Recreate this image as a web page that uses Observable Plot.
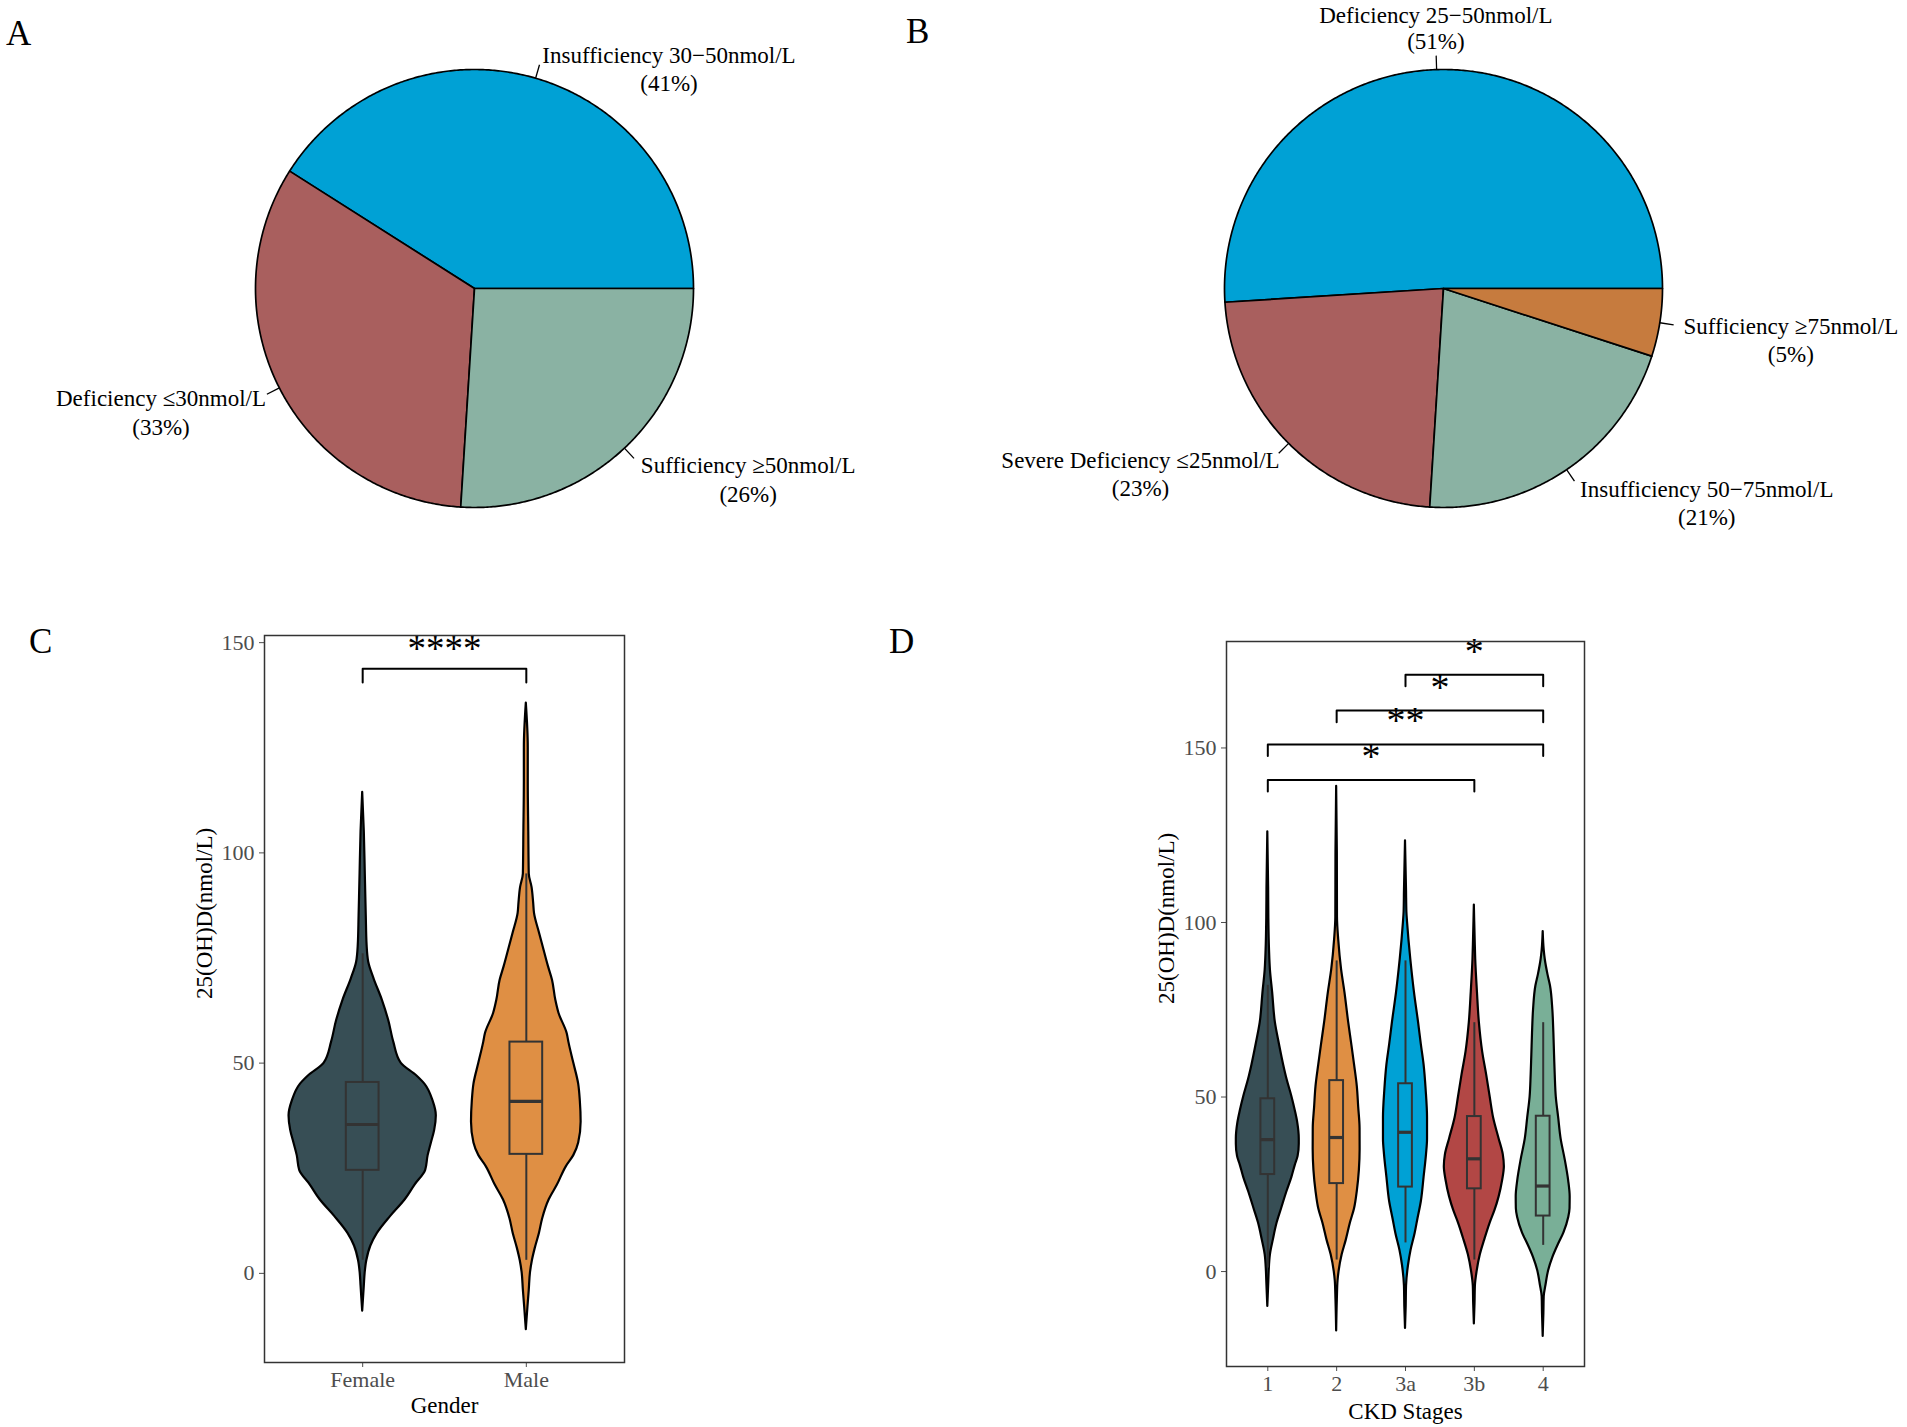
<!DOCTYPE html>
<html><head><meta charset="utf-8">
<script src="https://cdn.jsdelivr.net/npm/d3@7"></script>
<script src="https://cdn.jsdelivr.net/npm/@observablehq/plot@0.6"></script>
<style>
body{margin:0;background:#fff;}
#fig{position:relative;width:1907px;height:1427px;background:#fff;overflow:hidden;font-family:"Liberation Serif","Times New Roman",serif;}
#fig svg{position:absolute;overflow:visible;}
.letter{position:absolute;font-size:35px;line-height:1;color:#000;font-family:"Liberation Serif","Times New Roman",serif;}
</style></head><body><div id="fig"></div>
<script>
// ---------------- DATA ----------------
const pieALabels = ["Insufficiency 30\u221250nmol/L", "Deficiency \u226430nmol/L", "Sufficiency \u226550nmol/L"];
const pieAPercents = [41, 33, 26];
const pieBLabels = ["Deficiency 25\u221250nmol/L", "Severe Deficiency \u226425nmol/L", "Insufficiency 50\u221275nmol/L", "Sufficiency \u226575nmol/L"];
const pieBPercents = [51, 23, 21, 5];

const genderGroups = ["Female", "Male"];
const stageGroups = ["1", "2", "3a", "3b", "4"];
const yTickValues = [0, 50, 100, 150];

// box-plot statistics (nmol/L)
const genderLower = [3.1, 3.1];
const genderQ1 = [24.5, 28.3];
const genderMedian = [35.4, 40.9];
const genderQ3 = [45.4, 55.0];
const genderUpper = [76, 95];

const stageLower = [1, 3.3, 8.2, 3.3, 7.5];
const stageQ1 = [27.8, 25.2, 24.2, 23.7, 15.9];
const stageMedian = [37.8, 38.4, 39.9, 32.3, 24.5];
const stageQ3 = [49.5, 54.7, 53.8, 44.4, 44.5];
const stageUpper = [82, 89, 89, 71.3, 71.3];

// violin density profiles: [value, half-width in category units]
const violinFemale = [[114.4,0],[105,0.010],[95,0.016],[85,0.022],[78,0.027],[74,0.037],[70,0.07],[65,0.12],[60,0.16],[55,0.19],[50,0.235],[47,0.33],[45,0.38],[41,0.43],[37.5,0.45],[34,0.44],[31,0.42],[28,0.40],[24.5,0.385],[21,0.32],[17.5,0.26],[13.5,0.17],[9.5,0.09],[6.5,0.05],[3,0.025],[0,0.015],[-3,0.01],[-9,0]];
const violinMale = [[135.6,0],[125,0.012],[117,0.012],[105,0.015],[95,0.018],[91.8,0.035],[88,0.045],[85.6,0.05],[81,0.08],[77.5,0.104],[73,0.135],[69.7,0.16],[65,0.18],[61.8,0.2],[57,0.25],[55,0.26],[50,0.29],[45,0.32],[41,0.33],[36,0.335],[31,0.32],[28,0.29],[25.4,0.245],[21,0.19],[17.5,0.14],[13,0.10],[9.5,0.08],[6,0.055],[3,0.037],[0,0.025],[-4,0.018],[-8,0.01],[-13.4,0]];

const violinStage1 = [[126,0],[110,0.012],[101.5,0.015],[92,0.025],[86.4,0.038],[80,0.07],[71.3,0.11],[65,0.17],[59.2,0.23],[55,0.28],[50.1,0.35],[46,0.40],[42.6,0.435],[38,0.457],[36.5,0.457],[33,0.44],[30.5,0.40],[27,0.35],[23,0.28],[18,0.20],[13.9,0.135],[9,0.08],[4.8,0.038],[0,0.02],[-2.7,0.015],[-10,0]];
const violinStage2 = [[139,0],[120,0.01],[101.5,0.012],[95,0.03],[86.4,0.072],[80,0.12],[71.3,0.175],[65,0.22],[59.2,0.26],[53,0.30],[47.1,0.32],[41,0.34],[35,0.341],[29,0.33],[23,0.30],[18,0.26],[13.9,0.20],[9,0.14],[4.8,0.08],[0,0.035],[-2.7,0.02],[-8,0.01],[-17,0]];
const violinStage3a = [[123.4,0],[109,0.015],[103,0.02],[100,0.03],[95,0.05],[89.4,0.077],[80,0.13],[71.3,0.19],[65,0.23],[59.2,0.27],[52,0.30],[44,0.32],[38,0.32],[33.5,0.305],[27,0.27],[20,0.23],[15,0.18],[10.9,0.14],[6,0.08],[1.8,0.044],[-4.2,0.015],[-10,0.01],[-16.3,0]];
const violinStage3b = [[105,0],[95,0.012],[89.4,0.02],[80,0.045],[71.3,0.073],[63,0.12],[56.2,0.18],[50,0.23],[44,0.28],[38,0.36],[33.5,0.42],[30,0.436],[26,0.41],[21.4,0.36],[17.5,0.30],[13.9,0.23],[9,0.15],[4.8,0.087],[0,0.04],[-4.2,0.015],[-9,0.01],[-15,0]];
const violinStage4 = [[97.4,0],[92,0.015],[89.4,0.03],[85,0.07],[81.8,0.106],[75,0.14],[68.3,0.155],[62,0.165],[56.2,0.175],[50,0.19],[44,0.225],[38,0.26],[32,0.32],[26,0.37],[21.4,0.392],[18,0.39],[15.4,0.37],[11,0.30],[7.9,0.225],[4,0.14],[0.3,0.08],[-4,0.04],[-7.2,0.015],[-12,0.01],[-18.6,0]];

// significance comparisons: [group a, group b, bracket height, label]
const genderComparisons = [["Female", "Male", 143.8, "****"]];
const stageComparisons = [["1", "3b", 140.8, "*"], ["1", "4", 151, "**"], ["2", "4", 160.7, "*"], ["3a", "4", 171, "*"]];

// ---------------- STYLE ----------------
const FONT = '"Liberation Serif","Times New Roman",serif';
const pieAColors = ["#00A1D5", "#A95F5E", "#8AB2A3"];
const pieBColors = ["#00A1D5", "#A95F5E", "#8AB2A3", "#C67B3E"];
const jama = ["#374E55", "#DF8F44", "#00A1D5", "#B24745", "#79AF97"];

const fig = document.getElementById("fig");
const ctx = document.createElement("canvas").getContext("2d");
function textWidth(s, size) { ctx.font = `${size}px "Liberation Serif"`; return ctx.measureText(s).width; }

function place(node, left, top) { node.style.left = left + "px"; node.style.top = top + "px"; fig.appendChild(node); }

// ---------------- PIES ----------------
function piePlot({labels, percents, colors, width, height, cx, cy, r}) {
  const total = d3.sum(percents);
  let cum = 0;
  const slices = percents.map((p, i) => {
    const a0 = cum / total * 2 * Math.PI; cum += p;
    const a1 = cum / total * 2 * Math.PI;
    return {label: labels[i], pct: p, a0, a1, mid: (a0 + a1) / 2, color: colors[i]};
  });
  const marks = [];
  for (const s of slices) {
    const n = Math.max(2, Math.ceil((s.a1 - s.a0) / (Math.PI / 360)));
    const pts = [[0, 0]];
    for (let k = 0; k <= n; k++) { const t = s.a0 + (s.a1 - s.a0) * k / n; pts.push([Math.cos(t), Math.sin(t)]); }
    pts.push([0, 0]);
    marks.push(Plot.line(pts, {x: d => d[0], y: d => d[1], fill: s.color, stroke: "black", strokeWidth: 1.7, strokeLinejoin: "round"}));
  }
  const ext = 14 / r;
  marks.push(Plot.link(slices, {
    x1: d => Math.cos(d.mid), y1: d => Math.sin(d.mid),
    x2: d => Math.cos(d.mid) * (1 + ext), y2: d => Math.sin(d.mid) * (1 + ext),
    stroke: "black", strokeWidth: 1.3
  }));
  const k = (r + 24) / r;
  const fs = 23, lh = 28.5;
  for (const s of slices) {
    const c = Math.cos(s.mid), si = Math.sin(s.mid);
    const ax = c * k, ay = si * k;
    const w = textWidth(s.label, fs);
    let dx, dy1, dy2;
    if (Math.abs(c) < 0.12) { dx = 0; if (si > 0) { dy1 = -30; dy2 = -4; } else { dy1 = 0; dy2 = lh; } }
    else if (c > 0) { dx = w / 2; dy1 = 0; dy2 = lh; }
    else { dx = -w / 2 + 8; dy1 = 0; dy2 = lh; }
    marks.push(Plot.text([s], {x: () => ax, y: () => ay, text: d => d.label, dx, dy: dy1, fontSize: fs, fill: "black", textAnchor: "middle", fontFamily: FONT}));
    marks.push(Plot.text([s], {x: () => ax, y: () => ay, text: d => `(${d.pct}%)`, dx, dy: dy2, fontSize: fs, fill: "black", textAnchor: "middle", fontFamily: FONT}));
  }
  return Plot.plot({
    width, height, margin: 0,
    x: {domain: [-cx / r, (width - cx) / r], axis: null},
    y: {domain: [-(height - cy) / r, cy / r], axis: null},
    style: {fontFamily: FONT, background: "transparent", overflow: "visible"},
    marks
  });
}

place(piePlot({labels: pieALabels, percents: pieAPercents, colors: pieAColors, width: 950, height: 560, cx: 474, cy: 288, r: 219}), 0, 0);
place(piePlot({labels: pieBLabels, percents: pieBPercents, colors: pieBColors, width: 957, height: 560, cx: 493, cy: 288, r: 219}), 950, 0);

// ---------------- VIOLINS ----------------
function violinPlot({groups, profiles, lower, q1, median, q3, upper, comparisons, colors, xTitle, width, height, margins, yDomain, starSize, starLift, titleOffset}) {
  const pos = g => groups.indexOf(g) + 1;
  const rows = [];
  groups.forEach((g, i) => {
    profiles[i].slice().sort((a, b) => a[0] - b[0]).forEach(([v, hw]) => rows.push({g, v, x1: i + 1 - hw, x2: i + 1 + hw}));
  });
  const boxes = groups.map((g, i) => ({g, p: i + 1, lw: lower[i], q1: q1[i], med: median[i], q3: q3[i], uw: upper[i]}));
  const tip = 3.3;
  const brackets = [];
  comparisons.forEach(([a, b, y], j) => {
    brackets.push({id: j, x: pos(a), y: y - tip}, {id: j, x: pos(a), y}, {id: j, x: pos(b), y}, {id: j, x: pos(b), y: y - tip});
  });
  const stars = comparisons.map(([a, b, y, label]) => ({x: (pos(a) + pos(b)) / 2, y, label}));
  const bw = 0.1;
  return Plot.plot({
    width, height, ...margins,
    x: {domain: [0.4, groups.length + 0.6], ticks: groups.map((g, i) => i + 1), tickFormat: d => groups[Math.round(d) - 1], tickSize: 5, tickPadding: 4, label: null},
    y: {domain: yDomain, ticks: yTickValues, tickSize: 5, tickPadding: 5, label: null},
    color: {domain: groups, range: colors},
    style: {fontFamily: FONT, fontSize: "22px", color: "#4D4D4D", background: "transparent", overflow: "visible"},
    marks: [
      Plot.areaX(rows, {y: "v", x1: "x1", x2: "x2", z: "g", fill: "g", stroke: "black", strokeWidth: 2.2, curve: "monotone-y", strokeLinejoin: "round"}),
      Plot.ruleX(boxes, {x: "p", y1: "lw", y2: "q1", stroke: "#333333", strokeWidth: 2}),
      Plot.ruleX(boxes, {x: "p", y1: "q3", y2: "uw", stroke: "#333333", strokeWidth: 2}),
      Plot.rect(boxes, {x1: d => d.p - bw, x2: d => d.p + bw, y1: "q1", y2: "q3", fill: "g", stroke: "#333333", strokeWidth: 2}),
      Plot.ruleY(boxes, {y: "med", x1: d => d.p - bw, x2: d => d.p + bw, stroke: "#333333", strokeWidth: 3.2}),
      Plot.line(brackets, {x: "x", y: "y", z: "id", stroke: "black", strokeWidth: 2}),
      Plot.text(stars, {x: "x", y: "y", text: "label", fontSize: starSize, lineAnchor: "bottom", dy: -starLift, fill: "black", fontFamily: FONT}),
      Plot.frame({stroke: "#333333", strokeWidth: 1.5}),
      Plot.text([xTitle], {text: d => d, frameAnchor: "bottom", dy: titleOffset, fontSize: 23, fill: "black", fontFamily: FONT}),
      Plot.text(["25(OH)D(nmol/L)"], {text: d => d, frameAnchor: "left", dx: -60, rotate: -90, fontSize: 23, fill: "black", fontFamily: FONT})
    ]
  });
}

place(violinPlot({
  groups: genderGroups, profiles: [violinFemale, violinMale],
  lower: genderLower, q1: genderQ1, median: genderMedian, q3: genderQ3, upper: genderUpper,
  comparisons: genderComparisons, colors: jama.slice(0, 2), xTitle: "Gender",
  width: 500, height: 827, margins: {marginLeft: 114, marginRight: 26, marginTop: 35, marginBottom: 65},
  yDomain: [-21.2, 151.7], starSize: 37, starLift: 8, titleOffset: 50
}), 150, 600);

place(violinPlot({
  groups: stageGroups, profiles: [violinStage1, violinStage2, violinStage3a, violinStage3b, violinStage4],
  lower: stageLower, q1: stageQ1, median: stageMedian, q3: stageQ3, upper: stageUpper,
  comparisons: stageComparisons, colors: jama, xTitle: "CKD Stages",
  width: 560, height: 827, margins: {marginLeft: 126, marginRight: 76, marginTop: 41, marginBottom: 61},
  yDomain: [-27.2, 180.5], starSize: 38, starLift: 11, titleOffset: 52
}), 1100, 600);

// ---------------- PANEL LETTERS ----------------
[["A", 6, 16], ["B", 906, 14], ["C", 29, 624], ["D", 889, 624]].forEach(([t, x, y]) => {
  const d = document.createElement("div"); d.className = "letter"; d.textContent = t; place(d, x, y);
});
</script></body></html>
